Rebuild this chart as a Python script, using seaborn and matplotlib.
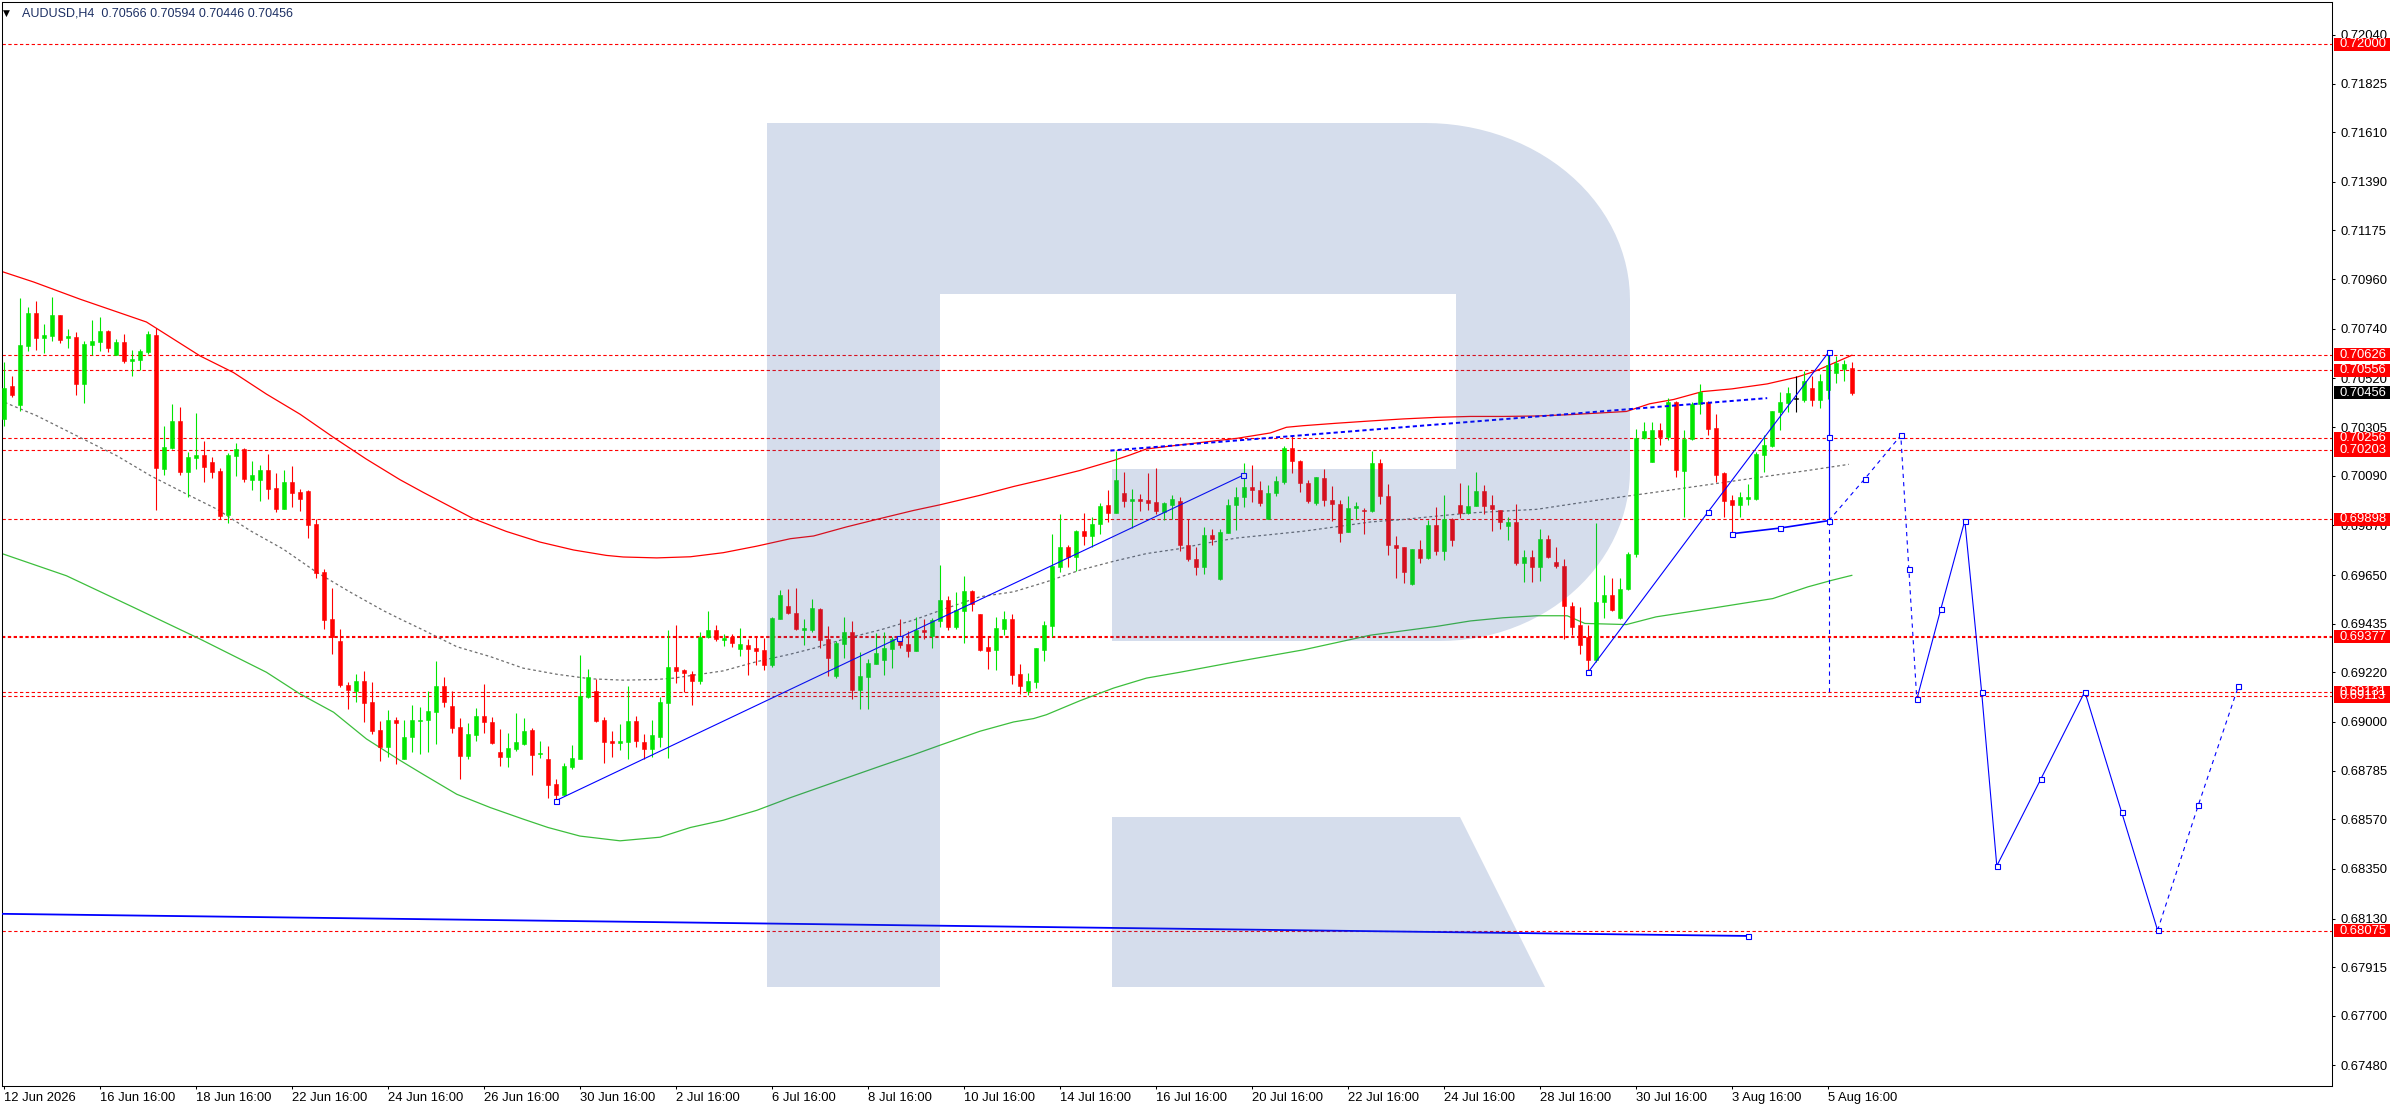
import numpy as np
import matplotlib
matplotlib.use("Agg")
import matplotlib.pyplot as plt
from matplotlib.patches import Rectangle, Polygon
from matplotlib.transforms import Affine2D, blended_transform_factory
import seaborn as sns

# --- AUDUSD H4 candles, quotes in points (1e-5), bar 0 = 12 Jun 2026 16:00 ---
open_pts = [
    70340, 70485, 70402, 70664, 70809, 70698, 70709, 70800, 70698, 70703,
    70495, 70667, 70682, 70729, 70626, 70681, 70598, 70602, 70636, 70712,
    70119, 70212, 70331, 70107, 70168, 70181, 70150, 70110, 69917, 70178,
    70208, 70070, 70070, 70115, 70035, 69942, 70062, 70017, 70022, 69876,
    69664, 69456, 69359, 69164, 69138, 69180, 69088, 68964, 68890, 69010,
    68838, 68935, 69004, 69009, 69045, 69159, 69070, 68978, 68850, 68943,
    69026, 69000, 68868, 68846, 68881, 68903, 68965, 68857, 68837, 68727,
    68678, 68802, 68837, 69110, 69137, 69009, 68916, 68907, 68912, 69004,
    68912, 68881, 68934, 69084, 69242, 69229, 69211, 69181, 69374, 69405,
    69363, 69376, 69322, 69339, 69326, 69317, 69251, 69454, 69515, 69481,
    69407, 69406, 69498, 69366, 69204, 69345, 69397, 69142, 69200, 69257,
    69275, 69323, 69370, 69344, 69314, 69406, 69381, 69447, 69538, 69419,
    69489, 69578, 69476, 69332, 69319, 69410, 69454, 69212, 69138, 69176,
    69319, 69423, 69685, 69773, 69729, 69844, 69825, 69875, 69958, 69923,
    70011, 69976, 69985, 69981, 69972, 69928, 69958, 69979, 69785, 69720,
    69685, 69829, 69632, 69835, 69958, 69994, 70041, 70028, 69897, 70011,
    70064, 70213, 70155, 70058, 69967, 70080, 69983, 69966, 69839, 69945,
    69939, 69932, 70147, 70001, 69785, 69776, 69610, 69764, 69725, 69873,
    69756, 69900, 69961, 69923, 69956, 70023, 69961, 69939, 69866, 69886,
    69703, 69728, 69685, 69811, 69706, 69692, 69514, 69428, 69377, 69274,
    69531, 69561, 69458, 69590, 69745, 70258, 70150, 70293, 70261, 70415,
    70109, 70250, 70408, 70415, 70300, 70103, 69981, 69958, 69988, 69988,
    70182, 70221, 70371, 70412, 70430, 70425, 70477, 70423, 70467, 70545,
    70560, 70566,
]
high_pts = [
    70591, 70529, 70874, 70838, 70865, 70760, 70880, 70800, 70741, 70725,
    70687, 70778, 70790, 70734, 70694, 70716, 70644, 70650, 70729, 70745,
    70309, 70406, 70393, 70194, 70367, 70243, 70172, 70122, 70190, 70234,
    70212, 70154, 70137, 70185, 70101, 70115, 70132, 70031, 70025, 69898,
    69677, 69593, 69412, 69176, 69213, 69226, 69176, 69004, 69054, 69020,
    69009, 69075, 69066, 69137, 69270, 69200, 69137, 69018, 68995, 69062,
    69167, 69023, 68969, 68951, 69040, 69018, 68973, 68916, 68894, 68749,
    68819, 68899, 69297, 69233, 69189, 69022, 68960, 68991, 69159, 69026,
    68947, 69009, 69112, 69405, 69429, 69233, 69225, 69399, 69489, 69427,
    69388, 69388, 69414, 69366, 69379, 69370, 69463, 69582, 69590, 69595,
    69454, 69542, 69503, 69423, 69357, 69463, 69445, 69309, 69278, 69392,
    69397, 69375, 69454, 69401, 69463, 69454, 69459, 69694, 69556, 69573,
    69645, 69586, 69476, 69376, 69463, 69489, 69479, 69257, 69216, 69328,
    69445, 69831, 69919, 69782, 69848, 69923, 69906, 69967, 70025, 70201,
    70104, 70029, 70007, 70100, 70122, 69972, 70003, 69997, 69900, 69773,
    69864, 69853, 69853, 69985, 70041, 70144, 70138, 70067, 70050, 70089,
    70223, 70267, 70160, 70072, 70085, 70120, 70045, 69983, 70001, 69975,
    69945, 70201, 70164, 70054, 69822, 69776, 69764, 69804, 69892, 69950,
    70006, 69904, 70058, 70050, 70108, 70050, 70006, 69939, 69909, 69963,
    69760, 69760, 69856, 69828, 69773, 69719, 69531, 69508, 69428, 69882,
    69649, 69635, 69635, 69752, 70297, 70327, 70327, 70322, 70432, 70422,
    70290, 70415, 70496, 70422, 70364, 70106, 70003, 70017, 70054, 70194,
    70268, 70374, 70459, 70481, 70530, 70555, 70533, 70540, 70640, 70620,
    70600, 70594,
]
low_pts = [
    70308, 70440, 70377, 70642, 70645, 70632, 70687, 70679, 70654, 70446,
    70411, 70623, 70641, 70638, 70623, 70588, 70532, 70558, 70629, 69939,
    70093, 70210, 70094, 69997, 70119, 70063, 70081, 69898, 69880, 70090,
    70063, 70026, 69979, 69986, 69930, 69942, 69951, 69933, 69815, 69639,
    69412, 69301, 69155, 69058, 69088, 68999, 68948, 68828, 68846, 68815,
    68838, 68868, 68859, 68868, 68903, 69066, 68951, 68746, 68838, 68916,
    68951, 68903, 68806, 68802, 68871, 68899, 68766, 68841, 68665, 68656,
    68678, 68793, 68837, 69106, 69000, 68819, 68846, 68876, 68837, 68890,
    68837, 68846, 68890, 68841, 69172, 69132, 69075, 69169, 69370, 69357,
    69336, 69330, 69291, 69207, 69251, 69230, 69242, 69454, 69476, 69405,
    69339, 69397, 69328, 69204, 69195, 69284, 69103, 69059, 69059, 69257,
    69208, 69239, 69328, 69288, 69314, 69367, 69328, 69420, 69406, 69410,
    69350, 69491, 69314, 69234, 69231, 69385, 69169, 69123, 69119, 69151,
    69269, 69376, 69663, 69685, 69667, 69785, 69773, 69831, 69884, 69923,
    69950, 69857, 69932, 69936, 69919, 69892, 69897, 69756, 69711, 69650,
    69654, 69782, 69628, 69835, 69848, 69950, 69972, 69954, 69897, 69998,
    70051, 70100, 70016, 69967, 69958, 69954, 69888, 69795, 69839, 69897,
    69831, 69928, 69963, 69738, 69636, 69614, 69606, 69703, 69722, 69738,
    69716, 69778, 69901, 69919, 69956, 69919, 69844, 69853, 69804, 69694,
    69619, 69619, 69623, 69725, 69681, 69367, 69384, 69299, 69220, 69266,
    69458, 69490, 69455, 69583, 69730, 70253, 70150, 70224, 70246, 70084,
    69907, 70246, 70364, 70268, 70062, 69907, 69826, 69907, 69958, 69981,
    70106, 70216, 70290, 70371, 70371, 70415, 70400, 70389, 70430, 70500,
    70510, 70446,
]
close_pts = [
    70480, 70446, 70667, 70809, 70698, 70712, 70800, 70689, 70706, 70495,
    70672, 70685, 70729, 70654, 70681, 70597, 70607, 70641, 70716, 70125,
    70216, 70331, 70107, 70172, 70181, 70129, 70107, 69913, 70181, 70208,
    70075, 70093, 70115, 70031, 69942, 70062, 70013, 69986, 69871, 69659,
    69451, 69375, 69164, 69142, 69180, 69085, 68961, 68890, 69008, 68994,
    68934, 69009, 69009, 69048, 69159, 69088, 68975, 68850, 68947, 69026,
    69000, 68907, 68846, 68885, 68912, 68960, 68854, 68862, 68722, 68678,
    68806, 68841, 69114, 69198, 69004, 68912, 68907, 68916, 69004, 68916,
    68881, 68943, 69088, 69242, 69225, 69216, 69181, 69376, 69405, 69366,
    69370, 69350, 69344, 69322, 69313, 69251, 69458, 69560, 69480, 69410,
    69414, 69503, 69363, 69284, 69348, 69397, 69142, 69203, 69260, 69304,
    69326, 69366, 69341, 69314, 69406, 69398, 69450, 69538, 69419, 69494,
    69578, 69520, 69319, 69314, 69414, 69454, 69208, 69160, 69182, 69328,
    69428, 69689, 69773, 69729, 69844, 69825, 69875, 69954, 69923, 70069,
    69976, 69985, 69976, 69967, 69932, 69967, 69985, 69782, 69720, 69685,
    69829, 69809, 69842, 69961, 69997, 70041, 70025, 69967, 70014, 70067,
    70213, 70153, 70056, 69976, 70085, 69981, 69963, 69835, 69948, 69957,
    69932, 70147, 69998, 69782, 69769, 69663, 69764, 69725, 69873, 69756,
    69900, 69804, 69923, 69957, 70023, 69954, 69941, 69884, 69886, 69703,
    69728, 69685, 69811, 69729, 69689, 69511, 69421, 69340, 69274, 69531,
    69564, 69495, 69590, 69745, 70258, 70288, 70293, 70261, 70415, 70113,
    70250, 70408, 70459, 70297, 70091, 69976, 69958, 69995, 69995, 70187,
    70224, 70374, 70415, 70456, 70430, 70511, 70423, 70511, 70580, 70590,
    70585, 70456,
]

# --- envelope indicator, read at sample bars ---
upper_bar = [-0.5, 3.7, 9.5, 17.8, 19.1, 24.5, 28.7, 32.8, 37.0, 41.2, 45.3, 49.5, 52.4, 58.7, 62.8,
             67.0, 71.2, 75.3, 77.4, 81.6, 85.8, 89.9, 94.1, 98.3, 101.2, 105.3, 109.5, 113.7, 117.0, 122.0,
             126.2, 130.3, 134.5, 136.6, 138.7, 140.8, 142.8, 147.0, 149.9, 154.1, 158.3, 160.3, 162.4, 166.6, 170.8,
             174.9, 179.1, 183.3, 187.4, 191.6, 195.8, 202.8, 205.7, 208.7, 212.3, 216.0, 220.4, 224.1, 226.3, 231.0]
upper_pts = [70996, 70947, 70871, 70770, 70741, 70620, 70546, 70451, 70362, 70259, 70163, 70072, 70016, 69899, 69843,
             69796, 69761, 69737, 69730, 69726, 69731, 69749, 69778, 69811, 69823, 69863, 69900, 69936, 69961, 70003,
             70042, 70076, 70113, 70135, 70157, 70182, 70208, 70226, 70238, 70255, 70279, 70304, 70311, 70322, 70332,
             70341, 70348, 70352, 70352, 70354, 70360, 70374, 70408, 70427, 70462, 70474, 70496, 70526, 70551, 70623]
mid_bar = [0.1, 4.1, 9.9, 14.1, 18.3, 22.4, 26.6, 30.8, 34.9, 39.1, 43.3, 47.4, 49.5, 52.4, 56.6,
           60.8, 64.9, 69.1, 73.3, 77.4, 81.6, 83.7, 85.8, 89.9, 94.1, 98.3, 101.2, 105.3, 109.5, 113.7,
           117.8, 122.0, 126.2, 130.3, 134.5, 138.7, 142.8, 147.0, 149.9, 154.1, 158.3, 162.4, 166.6, 170.8, 174.9,
           179.1, 183.3, 187.4, 191.6, 199.1, 206.5, 213.8, 221.1, 225.5, 230.6]
mid_pts = [70414, 70355, 70252, 70178, 70090, 70016, 69942, 69846, 69765, 69662, 69574, 69493, 69456, 69407, 69333,
           69289, 69238, 69211, 69191, 69185, 69188, 69194, 69205, 69226, 69267, 69300, 69326, 69370, 69407, 69451,
           69503, 69554, 69576, 69620, 69672, 69711, 69745, 69767, 69789, 69814, 69829, 69844, 69864, 69885, 69896,
           69911, 69925, 69933, 69941, 69981, 70017, 70054, 70091, 70113, 70140]
lower_bar = [-0.5, 7.8, 16.2, 24.5, 32.8, 37.0, 41.2, 45.3, 49.5, 52.4, 56.6, 60.8, 64.9, 68.0, 72.0,
             77.0, 82.0, 85.8, 89.9, 94.1, 98.3, 105.3, 109.5, 113.7, 117.0, 122.0, 126.2, 128.7, 130.3, 134.5,
             138.7, 142.8, 147.0, 154.1, 162.4, 170.8, 179.1, 183.3, 187.4, 191.6, 195.4, 197.6, 202.8, 206.5, 213.8,
             221.1, 225.5, 228.5, 231.0]
lower_pts = [69748, 69647, 69507, 69367, 69220, 69124, 69043, 68925, 68830, 68768, 68680, 68621, 68570, 68533, 68495,
             68474, 68490, 68533, 68565, 68609, 68665, 68752, 68804, 68855, 68897, 68959, 69000, 69015, 69032, 69094,
             69150, 69194, 69220, 69267, 69319, 69384, 69423, 69447, 69461, 69470, 69470, 69436, 69431, 69465, 69505,
             69546, 69598, 69627, 69649]

# --- horizontal levels and axis labels ---
level_prices = [0.72000, 0.70626, 0.70556, 0.70256, 0.70203, 0.69898, 0.69377, 0.69131, 0.69113, 0.68075]
current_price = 0.70456
ytick_vals = [0.72040, 0.71825, 0.71610, 0.71390, 0.71175, 0.70960, 0.70740, 0.70520, 0.70305, 0.70090,
              0.69870, 0.69650, 0.69435, 0.69220, 0.69000, 0.68785, 0.68570, 0.68350, 0.68130, 0.67915,
              0.67700, 0.67480]
xtick_bars = list(range(0, 229, 12))
xtick_labels = ["12 Jun 2026", "16 Jun 16:00", "18 Jun 16:00", "22 Jun 16:00", "24 Jun 16:00",
                "26 Jun 16:00", "30 Jun 16:00", "2 Jul 16:00", "6 Jul 16:00", "8 Jul 16:00",
                "10 Jul 16:00", "14 Jul 16:00", "16 Jul 16:00", "20 Jul 16:00", "22 Jul 16:00",
                "24 Jul 16:00", "28 Jul 16:00", "30 Jul 16:00", "3 Aug 16:00", "5 Aug 16:00"]
title_text = "AUDUSD,H4  0.70566 0.70594 0.70446 0.70456"

# --- drawn objects (bar, price) ---
trend_a_bar, trend_a_price = [69, 111.9, 154.9], [0.68652, 0.69373, 0.70092]
top_dash_bar, top_dash_price = [138.3, 220.4], [0.70201, 0.70433]
trend_c_bar, trend_c_price = [198, 213, 228.1], [0.69219, 0.69929, 0.70637]
base_d_bar, base_d_price = [216, 222, 228.1], [0.69833, 0.69858, 0.69891]
vert_bar = 228.1
vert_solid = [0.70637, 0.69891]
vert_mark = 0.70260
vert_dash = [0.69891, 0.69118]
fc_dash1_bar = [228.1, 232.6, 237.1, 238.1, 239.1]
fc_dash1_price = [0.69891, 0.70076, 0.70268, 0.69679, 0.69100]
fc_solid_bar = [239.1, 242.1, 245.1, 247.2, 249.1, 254.6, 260.1, 264.7, 269.2]
fc_solid_price = [0.69100, 0.69499, 0.69891, 0.69134, 0.68363, 0.68747, 0.69134, 0.68601, 0.68078]
fc_dash2_bar = [269.2, 274.3, 279.3]
fc_dash2_price = [0.68078, 0.68633, 0.69158]
bottom_bar, bottom_price = [-0.5, 218], [0.68151, 0.68053]

opens = np.array(open_pts) / 1e5
highs = np.array(high_pts) / 1e5
lows = np.array(low_pts) / 1e5
closes = np.array(close_pts) / 1e5

sns.set_style("white")
plt.rcParams['font.family'] = ['Liberation Sans', 'DejaVu Sans']
plt.rcParams['lines.scale_dashes'] = False

W, H = 2396, 1110
fig = plt.figure(figsize=(W / 100, H / 100), dpi=100)
ax = fig.add_axes([2 / W, (H - 1086) / H, 2330 / W, 1084 / H])
px = Affine2D().scale(1 / W, -1 / H).translate(0, 1) + fig.transFigure   # pixel coords, y down

BLUE = '#0000ff'
RED = '#ff0000'
BULL = '#00e600'
BEAR = '#ff0000'

# levels
for p in level_prices:
    ax.axhline(p, color=RED, lw=1.5 if p == 0.69377 else 0.8, ls=(0, (2.4, 1.8)), zorder=2)

# envelope
sns.lineplot(x=upper_bar, y=np.array(upper_pts) / 1e5, ax=ax, color='#ff0000', lw=0.9,
             sort=False, estimator=None, zorder=2.5)
sns.lineplot(x=lower_bar, y=np.array(lower_pts) / 1e5, ax=ax, color='#3cbe3c', lw=0.9,
             sort=False, estimator=None, zorder=2.5)
sns.lineplot(x=mid_bar, y=np.array(mid_pts) / 1e5, ax=ax, color='#6e6e6e', lw=0.9,
             linestyle=(0, (2.0, 2.0)), sort=False, estimator=None, zorder=2.5)

# candles
bars = np.arange(len(opens))
colors = np.where(closes > opens, BULL, np.where(closes < opens, BEAR, '#000000'))
ax.vlines(bars, lows, highs, colors=colors, lw=0.8, zorder=3)
body_lo = np.minimum(opens, closes)
body_h = np.maximum(np.abs(closes - opens), 0.00003)
ax.bar(bars, body_h, bottom=body_lo, width=0.56, color=colors, edgecolor=colors,
       linewidth=0.4, zorder=3.1)


def squares(xs, ys):
    ax.plot(xs, ys, ls='none', marker='s', ms=3.6, mfc='white', mec=BLUE, mew=0.8, zorder=6)


ax.plot(trend_a_bar, trend_a_price, color=BLUE, lw=0.8, zorder=5)
squares([trend_a_bar[0], trend_a_bar[-1]], [trend_a_price[0], trend_a_price[-1]])
squares([trend_a_bar[1]], [trend_a_price[1]])
ax.plot(top_dash_bar, top_dash_price, color=BLUE, lw=1.4, ls=(0, (3.0, 2.2)), zorder=5)
ax.plot(trend_c_bar, trend_c_price, color=BLUE, lw=0.8, zorder=5)
squares(trend_c_bar, trend_c_price)
ax.plot(base_d_bar, base_d_price, color=BLUE, lw=1.2, zorder=5)
squares(base_d_bar, base_d_price)
ax.plot([vert_bar, vert_bar], vert_solid, color=BLUE, lw=0.9, zorder=5)
ax.plot([vert_bar, vert_bar], vert_dash, color=BLUE, lw=0.8, ls=(0, (3.0, 3.0)), zorder=5)
squares([vert_bar], [vert_mark])
ax.plot(fc_dash1_bar, fc_dash1_price, color=BLUE, lw=0.8, ls=(0, (3.0, 3.0)), zorder=5)
ax.plot(fc_solid_bar, fc_solid_price, color=BLUE, lw=0.8, zorder=5)
ax.plot(fc_dash2_bar, fc_dash2_price, color=BLUE, lw=0.8, ls=(0, (3.0, 3.0)), zorder=5)
squares(fc_dash1_bar[1:] + fc_solid_bar[1:] + fc_dash2_bar[1:],
        fc_dash1_price[1:] + fc_solid_price[1:] + fc_dash2_price[1:])
ax.plot(bottom_bar, bottom_price, color=BLUE, lw=1.3, zorder=5)
squares([bottom_bar[-1]], [bottom_price[-1]])

# axes look
ax.set_xlim(-0.25, 291.0)
ax.set_ylim(0.67389, 0.72186)
ax.yaxis.tick_right()
ax.set_yticks(ytick_vals)
ax.set_yticklabels([f"{v:.5f}" for v in ytick_vals])
ax.set_xticks(xtick_bars)
ax.set_xticklabels(xtick_labels)
for t in ax.get_xticklabels():
    t.set_horizontalalignment('left')
ax.tick_params(axis='both', direction='out', length=2.5, width=0.75, labelsize=9.4,
               colors='black', bottom=True, right=True, left=False)
ax.tick_params(axis='y', pad=3.6)
ax.tick_params(axis='x', pad=1.5)
ax.grid(False)
for s in ax.spines.values():
    s.set_linewidth(0.75)
    s.set_color('black')
ax.set_xlabel("")
ax.set_ylabel("")

# watermark "R" overlay
wm = dict(facecolor='#2d55a0', edgecolor='none', alpha=0.2, transform=px, zorder=4)
fig.add_artist(Rectangle((767, 123), 173, 864, **wm))
t1 = np.linspace(0, np.pi / 2, 30)
arc1 = np.column_stack([1425 + 205 * np.sin(t1), 300 - 177 * np.cos(t1)])
t2 = np.linspace(0, np.pi / 2, 30)
arc2 = np.column_stack([1440 + 190 * np.cos(t2), 470 + 171 * np.sin(t2)])
bowl = np.vstack([[[940, 123]], arc1, arc2,
                  [[1112, 641], [1112, 469], [1456, 469], [1456, 294], [940, 294]]])
fig.add_artist(Polygon(bowl, closed=True, **wm))
fig.add_artist(Polygon([[1112, 817], [1460, 817], [1545, 987], [1112, 987]], closed=True, **wm))

# price boxes on the right scale
blend = blended_transform_factory(px, ax.transData)
box_h = 13 / 22600
for p in level_prices:
    fig.add_artist(Rectangle((2334, p - box_h / 2), 56, box_h, transform=blend,
                             facecolor=RED, edgecolor='none', zorder=5))
    fig.text(2339, p, f"{p:.5f}", transform=blend, color='white', fontsize=9.4,
             va='center', ha='left', zorder=6)
fig.add_artist(Rectangle((2334, current_price - box_h / 2), 56, box_h, transform=blend,
                         facecolor='black', edgecolor='none', zorder=5))
fig.text(2339, current_price, f"{current_price:.5f}", transform=blend, color='white',
         fontsize=9.4, va='center', ha='left', zorder=6)

# symbol header
fig.text(3, 13, "\u25bc", transform=px, fontsize=6.5, family='DejaVu Sans', color='black',
         va='center', ha='left', zorder=6)
fig.text(22, 13, title_text, transform=px, fontsize=9, color='#1c2f63',
         va='center', ha='left', zorder=6)

fig.savefig("out.png", dpi=100)
